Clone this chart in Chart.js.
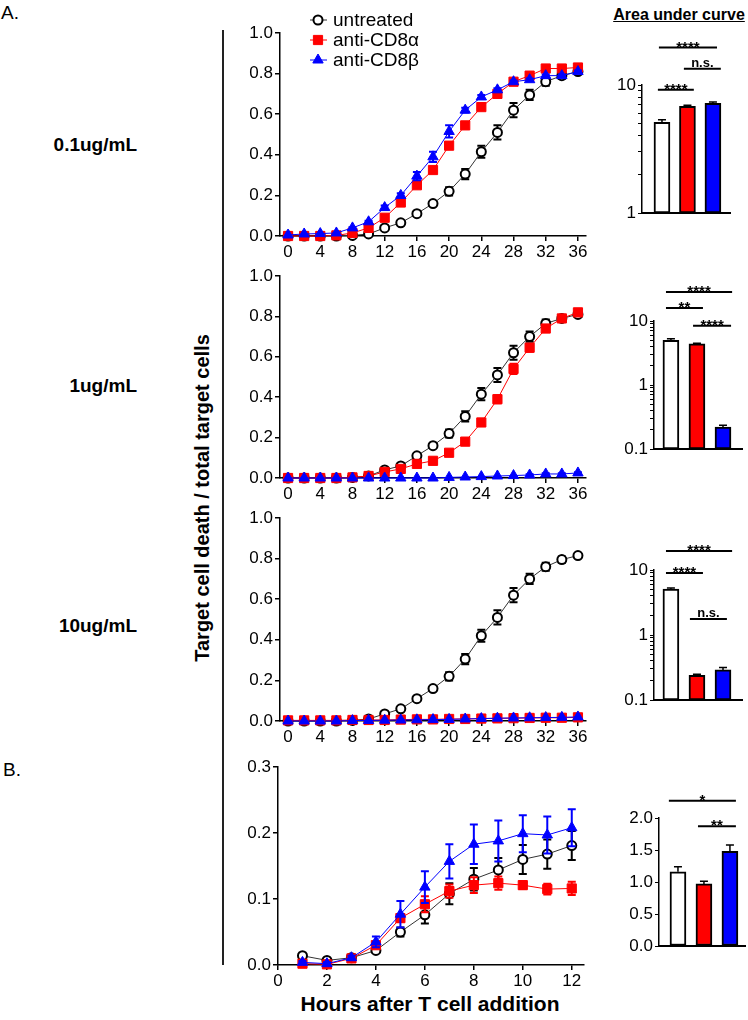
<!DOCTYPE html>
<html>
<head>
<meta charset="utf-8">
<script src="https://cdn.jsdelivr.net/npm/chart.js@4.4.1/dist/chart.umd.min.js"></script>
<style>
  body { margin: 0; background: #fff; }
  #fig { position: relative; width: 748px; height: 1020px; background: #fff; overflow: hidden;
         font-family: Arial, "Liberation Sans", sans-serif; color: #000; }
  #fig canvas { position: absolute; }
  .lbl { position: absolute; white-space: nowrap; line-height: 20px; }
  .conc { left: 0; width: 137px; text-align: right; font-weight: bold; font-size: 19px; }
</style>
</head>
<body>
<div id="fig">
  <div class="lbl" style="left:1px;top:3px;font-size:19px;">A.</div>
  <div class="lbl" style="left:3px;top:760px;font-size:19px;">B.</div>
  <div class="lbl conc" style="top:135px;">0.1ug/mL</div>
  <div class="lbl conc" style="top:376px;">1ug/mL</div>
  <div class="lbl conc" style="top:616px;">10ug/mL</div>
  <div style="position:absolute;left:222px;top:30px;width:2px;height:935px;background:#222;"></div>
  <div class="lbl" style="left:202px;top:498px;font-size:20px;font-weight:bold;transform:translate(-50%,-50%) rotate(-90deg);">Target cell death / total target cells</div>
  <div class="lbl" style="left:430px;top:1004px;font-size:21px;font-weight:bold;transform:translate(-50%,-50%);">Hours after T cell addition</div>
  <div class="lbl" style="left:679px;top:15px;font-size:16px;font-weight:bold;text-decoration:underline;transform:translate(-50%,-50%);">Area under curve</div>
</div>
<script>
// ---- data ----
const groups = ['untreated', 'anti-CD8α', 'anti-CD8β'];
const hoursA = [0, 2, 4, 6, 8, 10, 12, 14, 16, 18, 20, 22, 24, 26, 28, 30, 32, 34, 36];
const hoursB = [1, 2, 3, 4, 5, 6, 7, 8, 9, 10, 11, 12];

// 0.1 ug/mL
const a01Untreated    = [0, 0, 0, 0, 0.003, 0.01, 0.04, 0.065, 0.11, 0.16, 0.22, 0.305, 0.415, 0.51, 0.62, 0.695, 0.76, 0.79, 0.81];
const a01UntreatedErr = [0, 0, 0, 0, 0, 0.003, 0.005, 0.007, 0.008, 0.01, 0.02, 0.025, 0.03, 0.035, 0.035, 0.025, 0.02, 0.015, 0.01];
const a01Alpha        = [0, 0, 0, 0.003, 0.015, 0.04, 0.09, 0.165, 0.25, 0.325, 0.445, 0.545, 0.635, 0.7, 0.76, 0.79, 0.825, 0.825, 0.83];
const a01AlphaErr     = [0, 0, 0, 0, 0.003, 0.005, 0.008, 0.01, 0.012, 0.015, 0.015, 0.015, 0.012, 0.01, 0.008, 0.008, 0.006, 0.005, 0.005];
const a01Beta         = [0.005, 0.01, 0.012, 0.015, 0.04, 0.07, 0.14, 0.2, 0.295, 0.39, 0.515, 0.62, 0.685, 0.72, 0.76, 0.77, 0.79, 0.79, 0.81];
const a01BetaErr      = [0, 0, 0, 0, 0.003, 0.005, 0.01, 0.01, 0.02, 0.025, 0.03, 0.012, 0.01, 0.008, 0.006, 0.006, 0.005, 0.005, 0.005];

// 1 ug/mL
const a1Untreated    = [0, 0, 0, 0, 0.003, 0.01, 0.04, 0.06, 0.11, 0.16, 0.22, 0.305, 0.415, 0.51, 0.62, 0.7, 0.765, 0.79, 0.81];
const a1UntreatedErr = [0, 0, 0, 0, 0, 0.003, 0.005, 0.007, 0.008, 0.01, 0.02, 0.025, 0.03, 0.035, 0.035, 0.025, 0.02, 0.015, 0.01];
const a1Alpha        = [0, 0, 0, 0, 0.003, 0.01, 0.03, 0.045, 0.07, 0.085, 0.125, 0.18, 0.275, 0.39, 0.54, 0.645, 0.74, 0.79, 0.82];
const a1AlphaErr     = [0, 0, 0, 0, 0, 0.003, 0.005, 0.006, 0.007, 0.008, 0.01, 0.012, 0.015, 0.02, 0.025, 0.02, 0.012, 0.008, 0.008];
const a1Beta         = [0, 0, 0, 0, 0, 0, 0, 0, 0, 0, 0.003, 0.005, 0.007, 0.01, 0.012, 0.015, 0.02, 0.02, 0.025];
const a1BetaErr      = [0, 0, 0, 0, 0, 0, 0, 0, 0, 0, 0, 0, 0, 0, 0, 0.003, 0.003, 0.003, 0.003];

// 10 ug/mL
const a10Untreated    = [0, 0, 0, 0, 0.003, 0.01, 0.035, 0.06, 0.11, 0.16, 0.22, 0.305, 0.42, 0.51, 0.62, 0.7, 0.76, 0.795, 0.815];
const a10UntreatedErr = [0, 0, 0, 0, 0, 0.003, 0.005, 0.007, 0.008, 0.01, 0.02, 0.025, 0.03, 0.035, 0.035, 0.025, 0.02, 0.015, 0.01];
const a10Alpha        = [0.003, 0.003, 0.003, 0.003, 0.005, 0.005, 0.005, 0.007, 0.008, 0.008, 0.01, 0.01, 0.012, 0.013, 0.014, 0.015, 0.016, 0.016, 0.018];
const a10Beta         = [0, 0, 0, 0, 0.002, 0.003, 0.004, 0.005, 0.006, 0.007, 0.008, 0.01, 0.012, 0.014, 0.015, 0.016, 0.017, 0.018, 0.02];

// B: short time course
const bUntreated    = [0.014, 0.007, 0.011, 0.022, 0.05, 0.076, 0.108, 0.13, 0.144, 0.16, 0.168, 0.181];
const bUntreatedErr = [0.002, 0.002, 0.002, 0.003, 0.007, 0.013, 0.016, 0.017, 0.018, 0.022, 0.022, 0.022];
const bAlpha        = [0.002, 0.001, 0.01, 0.03, 0.071, 0.092, 0.112, 0.121, 0.124, 0.121, 0.115, 0.116];
const bAlphaErr     = [0.002, 0.001, 0.002, 0.004, 0.006, 0.012, 0.01, 0.012, 0.01, 0.006, 0.008, 0.01];
const bBeta         = [0.004, 0.002, 0.011, 0.035, 0.077, 0.118, 0.157, 0.183, 0.188, 0.199, 0.197, 0.208];
const bBetaErr      = [0.002, 0.002, 0.003, 0.008, 0.02, 0.024, 0.026, 0.03, 0.031, 0.028, 0.028, 0.028];

// area under curve
const auc01 = [5.1, 6.8, 7.2];   const auc01Err = [0.25, 0.15, 0.15];
const auc1  = [5.0, 4.4, 0.22];  const auc1Err  = [0.3, 0.1, 0.015];
const auc10 = [5.1, 0.24, 0.29]; const auc10Err = [0.2, 0.01, 0.025];
const aucB  = [1.16, 0.97, 1.48]; const aucBErr = [0.08, 0.04, 0.1];

// significance brackets: from / to in bar index units, level in data units
const sig01 = [{ from: 0.88, to: 3.16, level: 19.6, label: '****' },
               { from: 1.86, to: 3.31, level: 13.4, label: 'n.s.' },
               { from: 0.84, to: 2.25, level: 9.2,  label: '****' }];
const sig1  = [{ from: 0.81, to: 3.35, level: 28.4, label: '****' },
               { from: 0.81, to: 2.23, level: 16,   label: '**' },
               { from: 1.85, to: 3.31, level: 8.4,  label: '****' }];
const sig10 = [{ from: 0.81, to: 3.35, level: 19.6, label: '****' },
               { from: 0.81, to: 2.23, level: 9.0,  label: '****' },
               { from: 1.73, to: 3.15, level: 1.76, label: 'n.s.' }];
const sigB  = [{ from: 0.65, to: 3.23, level: 2.27, label: '*' },
               { from: 1.77, to: 3.23, level: 1.87, label: '**' }];

// tick values
const xTicksA = [0, 4, 8, 12, 16, 20, 24, 28, 32, 36];
const yTicksA = [0, 0.2, 0.4, 0.6, 0.8, 1.0];
const xTicksB = [0, 2, 4, 6, 8, 10, 12];
const yTicksB = [0, 0.1, 0.2, 0.3];
const logTicks1to10 = [1, 2, 3, 4, 5, 6, 7, 8, 9, 10];
const logTicks01to10 = [0.1, 0.2, 0.3, 0.4, 0.5, 0.6, 0.7, 0.8, 0.9, 1, 2, 3, 4, 5, 6, 7, 8, 9, 10];
const logLabels = [0.1, 1, 10];
const aucBTicks = [0, 0.5, 1.0, 1.5, 2.0];

// ---- styles ----
const FONT = 'Arial, "Liberation Sans", sans-serif';
Chart.defaults.font.family = FONT;
Chart.defaults.color = '#000';
const RED = '#ff0000', BLUE = '#0000ff';
const barColors = ['#ffffff', RED, BLUE];

const seriesStyle = [
  { borderColor: '#333', pointStyle: 'circle', pointRadius: 4.5, pointBorderWidth: 2,
    pointBackgroundColor: '#fff', pointBorderColor: '#000', errorColor: '#000', order: 3 },
  { borderColor: RED, pointStyle: 'rect', pointRadius: 6.5, pointBorderWidth: 1,
    pointBackgroundColor: RED, pointBorderColor: RED, errorColor: RED, order: 2 },
  { borderColor: BLUE, pointStyle: 'triangle', pointRadius: 6, pointBorderWidth: 1,
    pointBackgroundColor: BLUE, pointBorderColor: BLUE, errorColor: BLUE, order: 1 }
];

// error bars drawn through the scales
const errorBars = {
  id: 'errorBars',
  beforeDatasetDraw(chart, args) {
    if (chart.config.type !== 'line') return;
    const ds = chart.data.datasets[args.index];
    if (!ds.errors) return;
    const xs = chart.scales.x, ys = chart.scales.y, ctx = chart.ctx;
    ctx.save();
    ctx.strokeStyle = ds.errorColor;
    ctx.lineWidth = 2;
    ds.data.forEach((p, i) => {
      const e = ds.errors[i];
      if (!e) return;
      const x = xs.getPixelForValue(p.x);
      const y1 = ys.getPixelForValue(p.y + e);
      const y2 = ys.getPixelForValue(Math.max(p.y - e, 0));
      ctx.beginPath();
      ctx.moveTo(x, y1); ctx.lineTo(x, y2);
      ctx.moveTo(x - 4, y1); ctx.lineTo(x + 4, y1);
      ctx.moveTo(x - 4, y2); ctx.lineTo(x + 4, y2);
      ctx.stroke();
    });
    ctx.restore();
  },
  afterDatasetsDraw(chart) {
    if (chart.config.type !== 'bar') return;
    const ds = chart.data.datasets[0];
    const xs = chart.scales.x, ys = chart.scales.y, ctx = chart.ctx;
    ctx.save();
    ctx.strokeStyle = '#000';
    ctx.lineWidth = 1.5;
    ds.data.forEach((p, i) => {
      const x = xs.getPixelForValue(p.x);
      const y1 = ys.getPixelForValue(p.y);
      const y2 = ys.getPixelForValue(p.y + ds.errors[i]);
      ctx.beginPath();
      ctx.moveTo(x, y1); ctx.lineTo(x, y2);
      ctx.moveTo(x - 4, y2); ctx.lineTo(x + 4, y2);
      ctx.stroke();
    });
    ctx.restore();
  }
};

const sigBrackets = {
  id: 'sigBrackets',
  afterDraw(chart, args, opts) {
    if (!opts.items) return;
    const xs = chart.scales.x, ys = chart.scales.y, ctx = chart.ctx;
    ctx.save();
    ctx.strokeStyle = '#000';
    ctx.fillStyle = '#000';
    ctx.lineWidth = 2;
    ctx.textAlign = 'center';
    opts.items.forEach(s => {
      const x1 = xs.getPixelForValue(s.from), x2 = xs.getPixelForValue(s.to);
      const y = ys.getPixelForValue(s.level);
      ctx.beginPath(); ctx.moveTo(x1, y); ctx.lineTo(x2, y); ctx.stroke();
      const star = s.label.charAt(0) === '*';
      ctx.font = star ? 'bold 15px ' + FONT : 'bold 13px ' + FONT;
      ctx.fillText(s.label, (x1 + x2) / 2, y + (star ? 4 : -2));
    });
    ctx.restore();
  }
};

const legendBox = {
  id: 'legendBox',
  afterDraw(chart, args, opts) {
    if (!opts.show) return;
    const ctx = chart.ctx, a = chart.chartArea;
    const mx = a.left + 38;
    ctx.save();
    ctx.font = '19px ' + FONT;
    ctx.textBaseline = 'middle';
    groups.forEach((g, i) => {
      const st = seriesStyle[i];
      const y = a.top - 13 + i * 20;
      ctx.strokeStyle = st.borderColor; ctx.lineWidth = 1;
      ctx.beginPath(); ctx.moveTo(mx - 8, y); ctx.lineTo(mx + 9, y); ctx.stroke();
      ctx.fillStyle = st.pointBackgroundColor;
      ctx.strokeStyle = st.pointBorderColor;
      ctx.lineWidth = st.pointBorderWidth;
      Chart.helpers.drawPoint(ctx, { pointStyle: st.pointStyle, radius: st.pointRadius, rotation: 0,
        borderWidth: st.pointBorderWidth }, mx, y);
      ctx.fillStyle = '#000';
      ctx.fillText(g, mx + 15, y + 1);
    });
    ctx.restore();
  }
};

// ---- helpers ----
function addCanvas(left, top, w, h) {
  const c = document.createElement('canvas');
  c.width = w; c.height = h;
  c.style.left = left + 'px'; c.style.top = top + 'px';
  c.style.width = w + 'px'; c.style.height = h + 'px';
  document.getElementById('fig').appendChild(c);
  return c;
}

function axisBase() {
  return {
    grid: { display: true, drawOnChartArea: false, drawTicks: true, tickLength: 5, color: '#000', lineWidth: 1.5 },
    border: { display: true, color: '#000', width: 1.5 },
  };
}

// area: chart-area box in page pixels
function lineChart(area, hours, series, xr, yr, xTicks, yTicks, yFmt, showLegend) {
  const yW = 60, padT = 30, padR = 16, xH = 32;
  const cv = addCanvas(area.left - yW, area.top - padT, area.w + yW + padR, area.h + padT + xH);
  const datasets = series.map((s, i) => Object.assign({
    label: groups[i],
    data: hours.map((h, k) => ({ x: h, y: s.values[k] })),
    errors: s.errors,
    borderWidth: 1,
    tension: 0,
    clip: false
  }, seriesStyle[i]));
  return new Chart(cv, {
    type: 'line',
    data: { datasets },
    options: {
      responsive: false, animation: false, devicePixelRatio: 1,
      layout: { padding: { top: padT, right: padR, left: 0, bottom: 0 } },
      plugins: { legend: { display: false }, tooltip: { enabled: false }, legendBox: { show: showLegend } },
      scales: {
        x: Object.assign(axisBase(), {
          type: 'linear', min: xr[0], max: xr[1],
          afterBuildTicks: sc => { sc.ticks = xTicks.map(v => ({ value: v })); },
          afterFit: sc => { sc.height = xH; },
          ticks: { font: { size: 17 }, color: '#000', padding: 1, maxRotation: 0, autoSkip: false,
                   callback: v => String(v) }
        }),
        y: Object.assign(axisBase(), {
          type: 'linear', min: yr[0], max: yr[1],
          afterBuildTicks: sc => { sc.ticks = yTicks.map(v => ({ value: v })); },
          afterFit: sc => { sc.width = yW; },
          ticks: { font: { size: 17 }, color: '#000', padding: 2, autoSkip: false, callback: yFmt }
        })
      }
    },
    plugins: [errorBars, legendBox]
  });
}

function barChart(area, values, errs, xr, yScale, sigs) {
  const yW = 44, padT = 60, padR = 12, xH = 14;
  const cv = addCanvas(area.left - yW, area.top - padT, area.w + yW + padR, area.h + padT + xH);
  return new Chart(cv, {
    type: 'bar',
    data: {
      datasets: [{
        data: values.map((v, i) => ({ x: i + 1, y: v })),
        errors: errs,
        backgroundColor: barColors,
        borderColor: '#000',
        borderWidth: 2,
        borderSkipped: false,
        barThickness: 16
      }]
    },
    options: {
      responsive: false, animation: false, devicePixelRatio: 1,
      layout: { padding: { top: padT, right: padR, left: 0, bottom: 0 } },
      plugins: { legend: { display: false }, tooltip: { enabled: false }, sigBrackets: { items: sigs } },
      scales: {
        x: {
          type: 'linear', min: xr[0], max: xr[1], offset: false,
          grid: { display: false }, ticks: { display: false },
          border: { display: true, color: '#000', width: 2 },
          afterFit: sc => { sc.height = xH; }
        },
        y: {
          type: yScale.type, min: yScale.min, max: yScale.max,
          grid: { display: true, drawOnChartArea: false, drawTicks: true, tickLength: 4, color: '#000', lineWidth: 1 },
          border: { display: true, color: '#000', width: 1.5 },
          afterBuildTicks: sc => { sc.ticks = yScale.ticks.map(v => ({ value: v })); },
          afterFit: sc => { sc.width = yW; },
          ticks: { font: { size: 17 }, color: '#000', padding: 2, autoSkip: false, callback: yScale.fmt }
        }
      }
    },
    plugins: [errorBars, sigBrackets]
  });
}

const fmt1 = v => v.toFixed(1);
const logFmt = v => (logLabels.includes(v) ? String(v) : '');

// ---- panel A: time courses ----
lineChart({ left: 280, top: 33, w: 306, h: 203 }, hoursA,
  [{ values: a01Untreated, errors: a01UntreatedErr },
   { values: a01Alpha, errors: a01AlphaErr },
   { values: a01Beta, errors: a01BetaErr }],
  [-1, 37], [0, 1], xTicksA, yTicksA, fmt1, true);

lineChart({ left: 280, top: 276, w: 306, h: 202 }, hoursA,
  [{ values: a1Untreated, errors: a1UntreatedErr },
   { values: a1Alpha, errors: a1AlphaErr },
   { values: a1Beta, errors: a1BetaErr }],
  [-1, 37], [0, 1], xTicksA, yTicksA, fmt1, false);

lineChart({ left: 280, top: 518, w: 306, h: 203 }, hoursA,
  [{ values: a10Untreated, errors: a10UntreatedErr },
   { values: a10Alpha, errors: null },
   { values: a10Beta, errors: null }],
  [-1, 37], [0, 1], xTicksA, yTicksA, fmt1, false);

// ---- panel B: time course ----
lineChart({ left: 278, top: 767, w: 306, h: 198 }, hoursB,
  [{ values: bUntreated, errors: bUntreatedErr },
   { values: bAlpha, errors: bAlphaErr },
   { values: bBeta, errors: bBetaErr }],
  [0, 12.5], [0, 0.3], xTicksB, yTicksB, fmt1, false);

// ---- area under curve bars ----
barChart({ left: 642, top: 85, w: 88, h: 128 }, auc01, auc01Err, [0.216, 3.67],
  { type: 'logarithmic', min: 1, max: 10, ticks: logTicks1to10, fmt: logFmt }, sig01);
barChart({ left: 654, top: 321, w: 88, h: 128 }, auc1, auc1Err, [0.35, 3.73],
  { type: 'logarithmic', min: 0.1, max: 10, ticks: logTicks01to10, fmt: logFmt }, sig1);
barChart({ left: 654, top: 570, w: 88, h: 130 }, auc10, auc10Err, [0.35, 3.73],
  { type: 'logarithmic', min: 0.1, max: 10, ticks: logTicks01to10, fmt: logFmt }, sig10);
barChart({ left: 659, top: 818, w: 86, h: 128 }, aucB, aucBErr, [0.27, 3.58],
  { type: 'linear', min: 0, max: 2, ticks: aucBTicks, fmt: fmt1 }, sigB);
</script>
</body>
</html>
